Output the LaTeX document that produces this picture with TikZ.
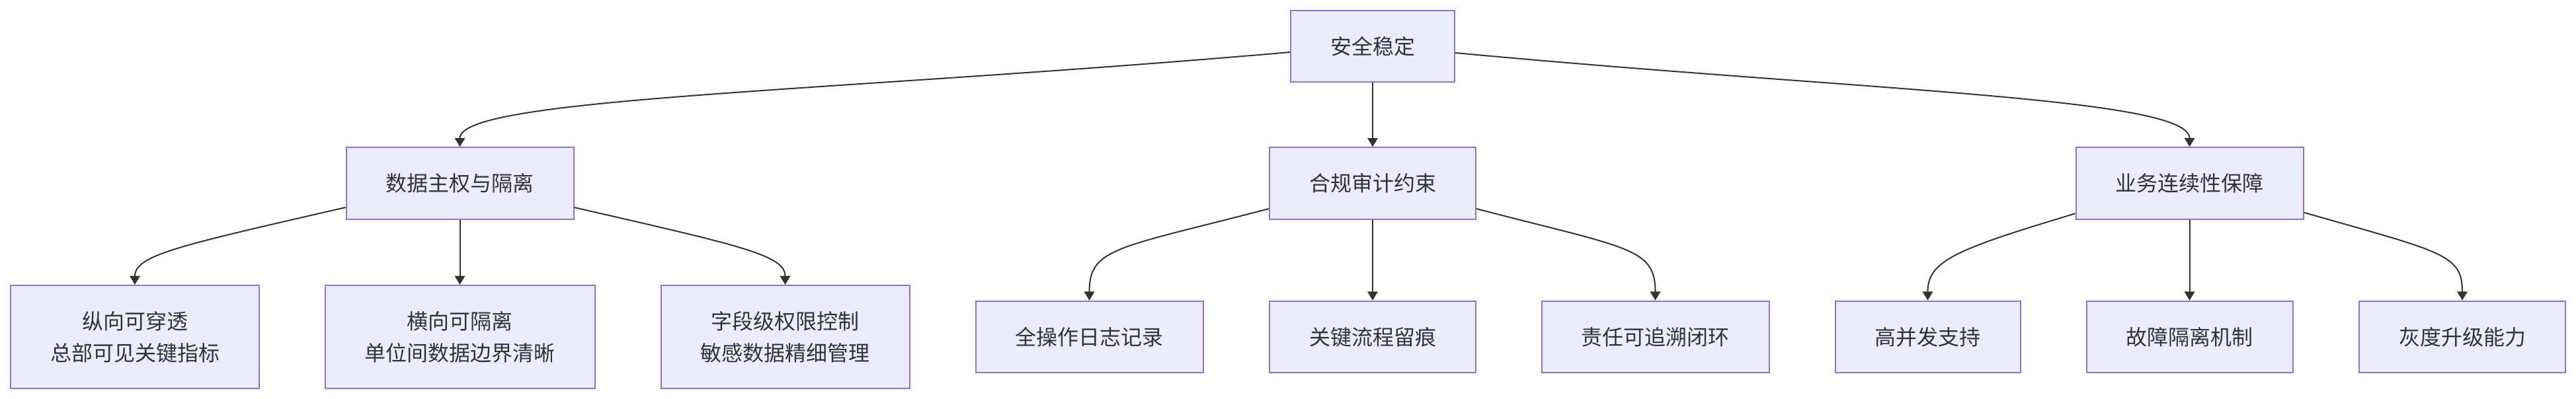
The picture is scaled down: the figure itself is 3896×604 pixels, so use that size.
\documentclass[tikz,border=0pt]{standalone}
\usepackage{fontspec}
\newfontfamily\cjk{Noto Sans CJK SC}
\usetikzlibrary{arrows.meta,calc}
\definecolor{boxfill}{HTML}{ECECFF}
\definecolor{boxline}{HTML}{9370DB}
\definecolor{ink}{HTML}{333333}
\tikzset{
  nodebox/.style={draw=boxline, fill=boxfill, line width=1pt, rectangle,
    inner xsep=30pt, inner ysep=0pt, minimum height=54.25pt,
    font=\cjk\fontsize{16pt}{24pt}\selectfont, text=ink, align=center},
  tallbox/.style={nodebox, minimum height=78pt},
  link/.style={draw=ink, line width=1pt, -{Triangle[length=6.7pt,width=7.8pt]}}
}
\begin{document}
\begin{tikzpicture}[x=0.5pt,y=-0.5pt]
\fill[white] (0,0) rectangle (3896,604);
\useasboundingbox (0,0) rectangle (3896,604);

\node[nodebox] (root) at (2076,70) {安全稳定};

\node[nodebox] (A) at (695.5,277.5) {数据主权与隔离};
\node[nodebox] (B) at (2076,277.5) {合规审计约束};
\node[nodebox] (C) at (3311.5,277.5) {业务连续性保障};

\node[tallbox] (A1) at (204,510) {纵向可穿透\\总部可见关键指标};
\node[tallbox] (A2) at (695.5,510) {横向可隔离\\单位间数据边界清晰};
\node[tallbox] (A3) at (1187.5,510) {字段级权限控制\\敏感数据精细管理};

\node[nodebox] (B1) at (1647.5,510) {全操作日志记录};
\node[nodebox] (B2) at (2076,510) {关键流程留痕};
\node[nodebox] (B3) at (2503.5,510) {责任可追溯闭环};

\node[nodebox] (C1) at (2915.5,510) {高并发支持};
\node[nodebox] (C2) at (3311.5,510) {故障隔离机制};
\node[nodebox] (C3) at (3724,510) {灰度升级能力};

\draw[link] ($(root.west)+(0,9)$) .. controls +(-700,61) and +(0,-75) .. (A.north);
\draw[link] (root.south) -- (B.north);
\draw[link] ($(root.east)+(0,10)$) .. controls +(620,58) and +(0,-75) .. (C.north);

\draw[link] ($(A.west)+(0,36.5)$) .. controls +(-250,57.5) and +(0,-45) .. (A1.north);
\draw[link] (A.south) -- (A2.north);
\draw[link] ($(A.east)+(0,36.5)$) .. controls +(250,57.5) and +(0,-45) .. (A3.north);

\draw[link] ($(B.west)+(0,38.5)$) .. controls +(-230,60) and +(0,-80) .. (B1.north);
\draw[link] (B.south) -- (B2.north);
\draw[link] ($(B.east)+(0,38.5)$) .. controls +(230,60) and +(0,-80) .. (B3.north);

\draw[link] ($(C.west)+(0,45.8)$) .. controls +(-180,54) and +(0,-60) .. (C1.north);
\draw[link] (C.south) -- (C2.north);
\draw[link] ($(C.east)+(0,44.2)$) .. controls +(210,60) and +(0,-70) .. (C3.north);
\end{tikzpicture}
\end{document}
